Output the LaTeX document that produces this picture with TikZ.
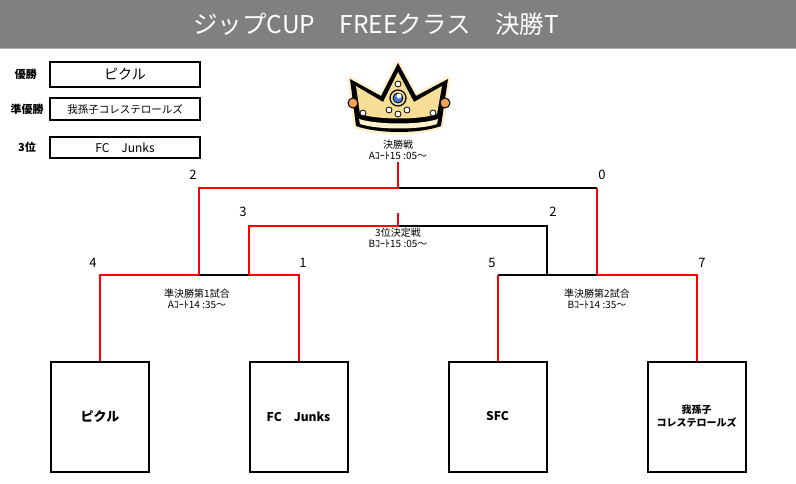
\documentclass[tikz,border=0pt]{standalone}
\usepackage{fontspec}
\newfontfamily\jpfont{Noto Sans CJK JP}
\usetikzlibrary{positioning}
\definecolor{crowngold}{RGB}{246,222,150}
\definecolor{crownglow}{RGB}{252,240,205}
\definecolor{jewelblue}{RGB}{70,120,215}
\definecolor{jewelorange}{RGB}{240,160,90}

\begin{document}
\begin{tikzpicture}[x=1pt,y=-1pt,font=\jpfont,
  win/.style={draw=red,line width=2pt},
  lose/.style={draw=black,line width=2pt},
  rankbox/.style={draw,line width=2pt,minimum width=150pt,inner sep=0pt},
  ranklabel/.style={font=\jpfont\bfseries\fontsize{11}{11}\selectfont},
  teambox/.style={draw,line width=2pt,minimum width=98pt,minimum height=110pt,inner sep=0pt,align=center},
  score/.style={font=\jpfont\fontsize{13}{13}\selectfont},
  match/.style={align=center,font=\jpfont\fontsize{10}{11}\selectfont}]
\useasboundingbox (0,0) rectangle (796,484);
\fill[white] (0,0) rectangle (796,484);
\fill[black!50] (0,0) rectangle (796,48);
\draw[black!30,line width=1.5pt] (0,48.5) -- (796,48.5);
\node[text=white,font=\jpfont\fontsize{24.5}{24.5}\selectfont] (title) at (376,24) {ジップCUP　FREEクラス　決勝T};

\node[rankbox,minimum height=25pt,font=\jpfont\fontsize{14}{14}\selectfont] (first) at (125,74.5) {ピクル};
\node[rankbox,minimum height=22pt,font=\jpfont\fontsize{10.5}{10.5}\selectfont] (second) at (125,109) {我孫子コレステロールズ};
\node[rankbox,minimum height=21pt,font=\jpfont\fontsize{12}{12}\selectfont] (third) at (125,147.5) {FC　Junks};
\node[ranklabel] (firstlabel) at (26,74.5) {優勝};
\node[ranklabel] (secondlabel) at (27,109) {準優勝};
\node[ranklabel] (thirdlabel) at (27,147.5) {3位};

\draw[crownglow,fill=crownglow,line width=5pt,line join=round] (350,79) -- (381,96) -- (398,63) -- (416,96) -- (448,79) -- (441,126) .. controls (420,134) and (378,134) .. (356,126) -- cycle;
\fill[black] (350,79) -- (381,96) -- (398,63) -- (416,96) -- (448,79) -- (441,126) .. controls (420,134) and (378,134) .. (356,126) -- cycle;
\fill[crowngold] (356,86) -- (383,102) -- (398,72) -- (414,102) -- (442,86) -- (437,114) .. controls (420,120) and (378,120) .. (360,114) -- cycle;
\fill[crownglow] (359,119) .. controls (378,125) and (420,125) .. (438,119) -- (437,124) .. controls (420,130) and (378,130) .. (360,124) -- cycle;
\draw[fill=jewelorange,line width=1pt] (353,103) circle (5);
\draw[fill=jewelorange,line width=1pt] (445,103) circle (5);
\draw[fill=crowngold,line width=1.2pt] (398,98) circle (8);
\draw[fill=jewelblue,line width=0.8pt] (398,98) circle (5);
\fill[white] (399,96) circle (2.5);
\foreach \px/\py in {398/84,389/110,398/114,407/110,363/113,433/113}
  \draw[fill=white,line width=0.8pt] (\px,\py) circle (3);

\node[match] (finalmatch) at (398,149.5) {決勝戦\\Aｺｰﾄ15 :05～};
\node[match] (thirdmatch) at (398,237.5) {3位決定戦\\Bｺｰﾄ15 :05～};
\node[match] (semione) at (197,299) {準決勝第1試合\\Aｺｰﾄ14 :35～};
\node[match] (semitwo) at (597,299) {準決勝第2試合\\Bｺｰﾄ14 :35～};

\node[teambox,font=\jpfont\bfseries\fontsize{13}{13}\selectfont] (teamA) at (100,416.5) {ピクル};
\node[teambox,font=\jpfont\bfseries\fontsize{12}{12}\selectfont] (teamB) at (298.5,416.5) {FC　Junks};
\node[teambox,font=\jpfont\bfseries\fontsize{12}{12}\selectfont] (teamC) at (497.5,416.5) {SFC};
\node[teambox,font=\jpfont\bfseries\fontsize{10}{13}\selectfont] (teamD) at (696.5,416.5) {我孫子\\コレステロールズ};

\coordinate (ftop) at (398,162);
\coordinate (f) at (398,188);
\coordinate (fL) at (199,188);
\coordinate (fR) at (597,188);
\coordinate (ttop) at (398,213);
\coordinate (t) at (398,226);
\coordinate (tL) at (249,226);
\coordinate (tR) at (547,226);
\coordinate (s1L) at (100,275);
\coordinate (s1a) at (199,275);
\coordinate (s1b) at (249,275);
\coordinate (s1R) at (298.5,275);
\coordinate (s2L) at (497.5,275);
\coordinate (s2b) at (547,275);
\coordinate (s2a) at (597,275);
\coordinate (s2R) at (696.5,275);

\draw[lose] (f) -- (fR);
\draw[lose] (t) -- (tR) -- (s2b);
\draw[lose] (s1a) -- (s1b);
\draw[lose] (s2L) -- (s2a);
\draw[win] (ftop) -- (f) -- (fL) -- (s1a);
\draw[win] (fR) -- (s2a);
\draw[win] (ttop) -- (t) -- (tL) -- (s1b);
\draw[win] (teamA.north) -- (s1L) -- (s1a);
\draw[win] (s1b) -- (s1R) -- (teamB.north);
\draw[win] (teamC.north) -- (s2L);
\draw[win] (s2a) -- (s2R) -- (teamD.north);

\node[score] (fscoreL) at (193,175) {2};
\node[score] (fscoreR) at (602,175) {0};
\node[score] (tscoreL) at (243,212) {3};
\node[score] (tscoreR) at (553,212) {2};
\node[score] (s1scoreL) at (93,263) {4};
\node[score] (s1scoreR) at (303,263) {1};
\node[score] (s2scoreL) at (492,263) {5};
\node[score] (s2scoreR) at (702,263) {7};
\end{tikzpicture}
\end{document}
